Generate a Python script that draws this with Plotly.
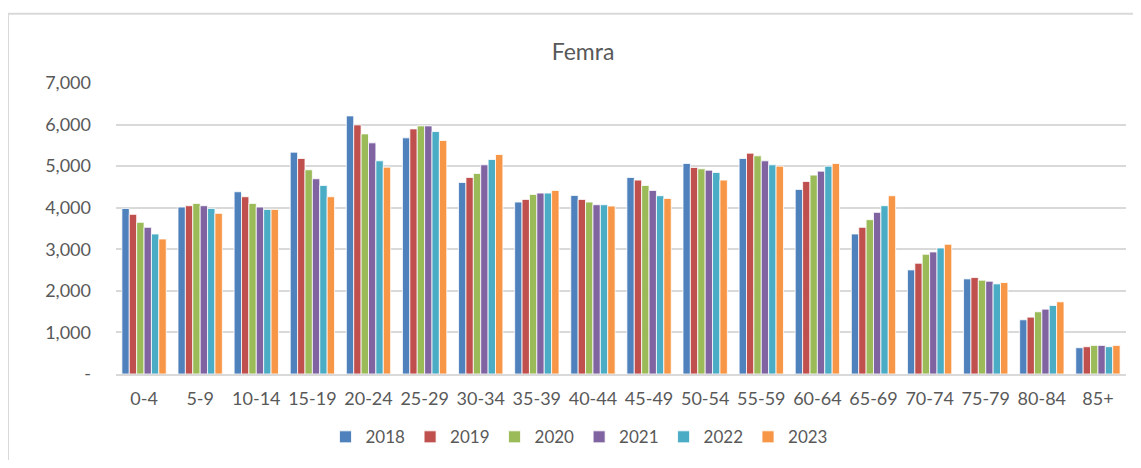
import plotly.graph_objects as go

categories = ["0-4", "5-9", "10-14", "15-19", "20-24", "25-29", "30-34", "35-39", "40-44",
              "45-49", "50-54", "55-59", "60-64", "65-69", "70-74", "75-79", "80-84", "85+"]

years = ["2018", "2019", "2020", "2021", "2022", "2023"]

v2018 = [3984, 4016, 4384, 5336, 6208, 5680, 4608, 4136, 4296, 4728, 5064, 5184, 4440, 3368, 2504, 2288, 1304, 632]
v2019 = [3840, 4048, 4264, 5184, 5992, 5896, 4728, 4200, 4200, 4664, 4968, 5312, 4632, 3528, 2664, 2320, 1368, 656]
v2020 = [3648, 4104, 4104, 4912, 5776, 5968, 4824, 4320, 4136, 4536, 4936, 5248, 4784, 3712, 2880, 2256, 1496, 688]
v2021 = [3528, 4048, 4016, 4696, 5560, 5968, 5032, 4352, 4072, 4416, 4904, 5128, 4880, 3888, 2936, 2232, 1560, 688]
v2022 = [3368, 3984, 3960, 4536, 5128, 5832, 5160, 4352, 4072, 4288, 4848, 5032, 5000, 4048, 3032, 2168, 1648, 656]
v2023 = [3248, 3864, 3960, 4264, 4976, 5616, 5280, 4416, 4040, 4224, 4664, 5000, 5064, 4288, 3120, 2200, 1736, 688]

series = [v2018, v2019, v2020, v2021, v2022, v2023]
colors = ["#4F81BD", "#C0504D", "#9BBB59", "#8064A2", "#4BACC6", "#F79646"]

y_tickvals = [0, 1000, 2000, 3000, 4000, 5000, 6000, 7000]
y_ticktext = ["-", "1,000", "2,000", "3,000", "4,000", "5,000", "6,000", "7,000"]

FONT = "Lato"
GRAY = "#595959"

fig = go.Figure()
for name, vals, col in zip(years, series, colors):
    fig.add_trace(go.Bar(
        x=categories, y=vals, name=name,
        marker=dict(color=col, line=dict(color="rgba(255,255,255,0.8)", width=1)),
    ))

# page body has an 8px default margin; work in window pixels and shift by it
OFF = 8
W, H = 1141 - 2 * OFF, 468 - 2 * OFF
L = 116 - OFF
R = W - (1126 - OFF)
T = 82.5 - OFF
B = H - (374.5 - OFF)
pw = W - L - R
ph = H - T - B

def px_x(x):
    return (x - OFF - L) / pw

def px_y(y):
    return (H - B - (y - OFF)) / ph

fig.update_layout(
    width=W, height=H,
    margin=dict(l=L, r=R, t=T, b=B, autoexpand=False),
    paper_bgcolor="white", plot_bgcolor="white",
    barmode="group", bargap=0.21, bargroupgap=0.0,
    font=dict(family=FONT, color=GRAY, size=18),
    title=dict(text="Femra", x=(583 - OFF) / W, xanchor="center",
               y=1 - (52 - OFF) / H, yanchor="middle",
               font=dict(family=FONT, size=23, color=GRAY)),
    legend=dict(orientation="h", x=px_x(579), xanchor="center", y=px_y(438), yanchor="middle",
                font=dict(family=FONT, size=17, color=GRAY),
                itemwidth=30, traceorder="normal", bgcolor="rgba(255,255,255,0)"),
    showlegend=True,
    shapes=[dict(type="rect", xref="paper", yref="paper",
                 x0=px_x(8), x1=px_x(1160), y0=px_y(490), y1=px_y(13),
                 line=dict(color="#D9D9D9", width=2), layer="below")],
)

fig.update_xaxes(
    showgrid=False, showline=True, linecolor="#D9D9D9", linewidth=1.5,
    ticks="", tickfont=dict(family=FONT, size=18, color=GRAY),
    ticklabelstandoff=8,
)
fig.update_yaxes(
    range=[0, 7000], tickvals=y_tickvals, ticktext=y_ticktext,
    showgrid=True, gridcolor="#D9D9D9", gridwidth=1.5,
    zeroline=False, showline=False, ticks="",
    tickfont=dict(family=FONT, size=18, color=GRAY),
    ticklabelstandoff=24,
)

fig.write_html("out.html")
